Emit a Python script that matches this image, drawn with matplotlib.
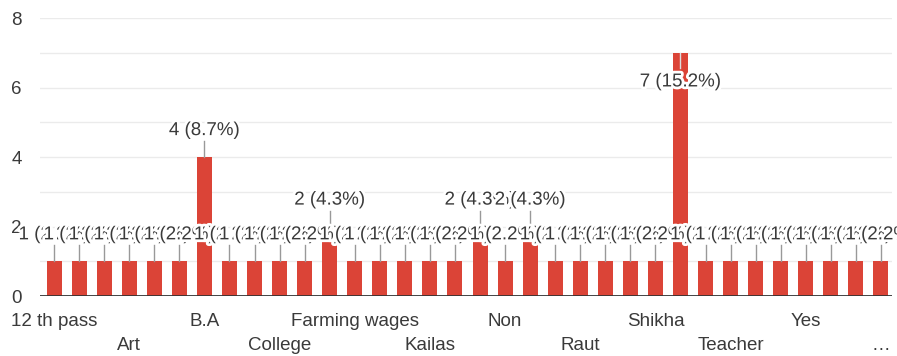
import matplotlib
matplotlib.use('Agg')
import matplotlib.pyplot as plt
import matplotlib.patheffects as pe
import numpy as np

plt.rcParams['font.family'] = ['Liberation Sans', 'DejaVu Sans']

# liczba odpowiedzi dla każdej kategorii (34 słupki, razem 46)
values = [1, 1, 1, 1, 1, 1, 4, 1, 1, 1, 1, 2, 1, 1, 1, 1, 1, 2, 1, 2,
          1, 1, 1, 1, 1, 7, 1, 1, 1, 1, 1, 1, 1, 1]
# widoczne podpisy osi x (co trzeci słupek, naprzemiennie w dwóch rzędach)
row1_pos = [0, 6, 12, 18, 24, 30]
row1_labels = ['12 th pass', 'B.A', 'Farming wages', 'Non', 'Shikha', 'Yes']
row2_pos = [3, 9, 15, 21, 27, 33]
row2_labels = ['Art', 'College', 'Kailas', 'Raut', 'Teacher', '…']
y_ticks = [0, 2, 4, 6, 8]

total = sum(values)
bar_color = '#db4437'
text_color = '#3a3a3a'
fs = 13.5

fig = plt.figure(figsize=(8.97, 3.56), dpi=100)
ax = fig.add_axes([0.0446, 0.1685, 0.9498, 0.7809])

x = np.arange(len(values))
ax.bar(x, values, width=0.6, color=bar_color, zorder=2)

ax.set_xlim(-0.56, 33.44)
ax.set_ylim(0, 8)

# siatka
for yv in range(0, 9):
    ax.axhline(yv, color='#ebebeb', lw=1, zorder=0)
ax.axhline(0, color='#333333', lw=2, zorder=3)

for s in ax.spines.values():
    s.set_visible(False)

ax.set_yticks(y_ticks)
ax.set_yticklabels([str(v) for v in y_ticks])
ax.tick_params(axis='y', length=0, pad=13, labelsize=fs, labelcolor=text_color)

ax.set_xticks(row1_pos)
ax.set_xticklabels(row1_labels)
ax.set_xticks(row2_pos, minor=True)
ax.set_xticklabels(row2_labels, minor=True)
ax.tick_params(axis='x', which='major', length=0, pad=12, labelsize=fs, labelcolor=text_color)
ax.tick_params(axis='x', which='minor', length=0, pad=29.5, labelsize=fs, labelcolor=text_color)

# etykiety danych z liniami prowadzącymi
vmax = max(values)
for i, v in enumerate(values):
    lab = '%d (%.1f%%)' % (v, v / total * 100)
    if v == vmax:
        ty = v - 0.84
        ax.plot([i, i], [v, v - 0.45], color='#dddddd', lw=1, zorder=3)
    else:
        ty = v + 0.76
        ax.plot([i, i], [v, v + 0.46], color='#999999', lw=1, zorder=3)
    ax.text(i, ty, lab, ha='center', va='center', fontsize=fs, color=text_color, zorder=4,
            path_effects=[pe.withStroke(linewidth=4, foreground='white')])

fig.savefig('out.png', dpi=100)
